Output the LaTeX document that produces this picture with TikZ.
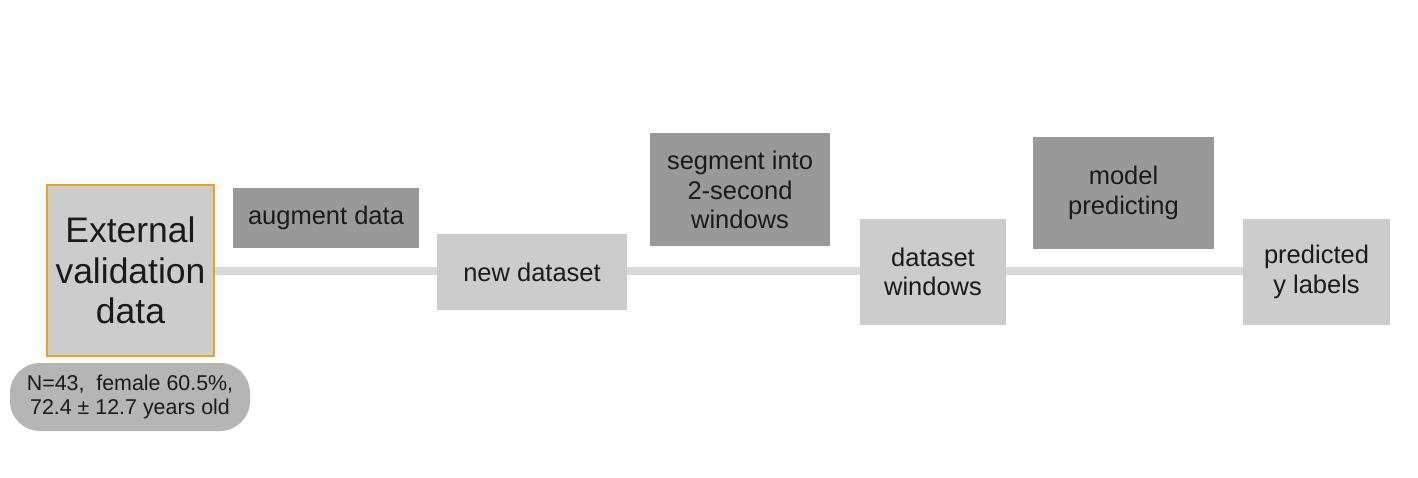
\documentclass[tikz,border=0pt]{standalone}
\usepackage{fontspec}
\setmainfont{Liberation Sans}
\usetikzlibrary{backgrounds}
\definecolor{lightbox}{HTML}{CCCCCC}
\definecolor{darkbox}{HTML}{999999}
\definecolor{pillbox}{HTML}{B5B5B5}
\definecolor{linkcol}{HTML}{D9D9D9}
\definecolor{orangeedge}{HTML}{F0A01A}
\definecolor{txt}{HTML}{1A1A1A}
\tikzset{
  base/.style={inner sep=0pt, align=center, text=txt, font=\fontsize{25.5}{29.5}\selectfont},
  lightnode/.style={base, fill=lightbox},
  darknode/.style={base, fill=darkbox},
  link/.style={draw=linkcol, line width=8pt}
}
\begin{document}
\begin{tikzpicture}[x=1pt,y=-1pt]
\useasboundingbox (0,0) rectangle (1418,478);
\node[lightnode, draw=orangeedge, line width=2pt, minimum width=167pt, minimum height=171pt,
      font=\fontsize{35.5}{40.5}\selectfont] (ext) at (130.5,270.5) {External\\validation\\data};
\node[base, fill=pillbox, rounded corners=30pt, minimum width=240pt, minimum height=68pt,
      font=\fontsize{21.4}{23.5}\selectfont] (demo) at (130,397) {N=43,\ \ female 60.5\%,\\72.4 ± 12.7 years old};
\node[darknode, minimum width=186pt, minimum height=60pt] (aug) at (326,218) {augment data};
\node[lightnode, minimum width=190pt, minimum height=76pt] (newds) at (532,272) {new dataset};
\node[darknode, minimum width=180pt, minimum height=113pt] (seg) at (740,190) {segment into\\2-second\\windows};
\node[lightnode, minimum width=146pt, minimum height=106pt] (dsw) at (933,272) {dataset\\windows};
\node[darknode, minimum width=181pt, minimum height=112pt] (model) at (1123.5,193) {model\\predicting};
\node[lightnode, minimum width=147pt, minimum height=106pt] (pred) at (1316.5,272) {predicted\\y labels};
\begin{scope}[on background layer]
\fill[white] (0,0) rectangle (1418,478);
\draw[link] (ext.east |- 0,271) -- (newds.west |- 0,271);
\draw[link] (newds.east |- 0,271) -- (dsw.west |- 0,271);
\draw[link] (dsw.east |- 0,271) -- (pred.west |- 0,271);
\end{scope}
\end{tikzpicture}
\end{document}
